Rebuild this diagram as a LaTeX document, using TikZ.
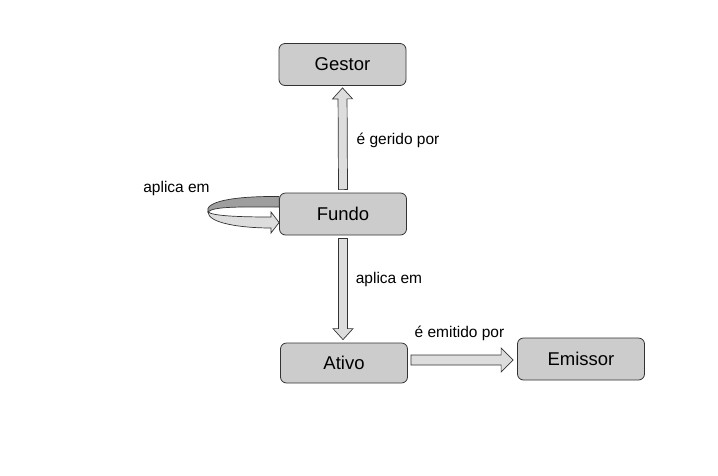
\documentclass[tikz,border=0pt]{standalone}
\usepackage{fontspec}
\setmainfont{Liberation Sans}
\usetikzlibrary{calc,positioning}

\definecolor{boxgray}{RGB}{204,204,204}
\definecolor{arrowgray}{RGB}{221,221,221}
\definecolor{bandgray}{RGB}{158,158,158}

\tikzset{
  box/.style={draw=black!80, line width=0.8pt, rounded corners=6pt, fill=boxgray,
    minimum width=127pt, minimum height=42pt, inner sep=0pt,
    font=\fontsize{18.5}{22}\selectfont},
  lbl/.style={font=\fontsize{15.5}{18}\selectfont, inner sep=0pt},
  fatarrow/.style={draw=black!80, line width=0.7pt, fill=arrowgray, line join=miter}
}

% block arrow from #1 to #2 (shaft half width #3, head half width #4, head length #5)
\newcommand{\fatarrow}[5]{%
  \path let \p1=($(#2)-(#1)$) in
    \pgfextra{\pgfmathsetmacro{\faang}{atan2(\y1,\x1)}\pgfmathsetmacro{\falen}{veclen(\x1,\y1)}%
      \xdef\faang{\faang}\xdef\falen{\falen}};
  \draw[fatarrow, shift={(#1)}, rotate=\faang]
    (0,-#3) -- (\falen-#5,-#3) -- (\falen-#5,-#4) -- (\falen,0)
    -- (\falen-#5,#4) -- (\falen-#5,#3) -- (0,#3) -- cycle;
}

\begin{document}
\begin{tikzpicture}[x=1pt,y=-1pt]
  \useasboundingbox (0,0) rectangle (718,475);

  \node[box] (gestor)  at (342.5,64.5) {Gestor};
  \node[box] (fundo)   at (343,214)    {Fundo};
  \node[box, minimum height=40pt] (ativo) at (344,363) {Ativo};
  \node[box] (emissor) at (581,359)    {Emissor};

  % connectors
  \coordinate (fg-s) at ([yshift=3pt]fundo.north);
  \coordinate (fg-e) at ([yshift=-2pt]gestor.south);
  \fatarrow{fg-s}{fg-e}{4.5}{10}{11}

  \coordinate (fa-s) at ([yshift=-3pt]fundo.south);
  \coordinate (fa-e) at ([yshift=3pt]fa-s |- ativo.north);
  \fatarrow{fa-s}{fa-e}{4.5}{10}{11}

  \coordinate (ae-s) at ([xshift=3pt,yshift=3pt]ativo.east);
  \coordinate (ae-e) at ([xshift=-4pt]ae-s -| emissor.west);
  \fatarrow{ae-s}{ae-e}{5}{12}{12}

  % self loop on fundo
  \draw[fatarrow, fill=bandgray] (fundo.west |- 0,196.5)
    .. controls (232,196) and (204,202) .. (208,212)
    .. controls (213,206) and (245,207) .. (fundo.west |- 0,207) -- cycle;
  \draw[fatarrow] (208,212)
    .. controls (208,223) and (240,228) .. (271,228) -- (271,233)
    -- (fundo.west |- 0,222.5) -- (271,212) -- (271,217)
    .. controls (240,217) and (213,216) .. (208,212) -- cycle;

  % labels
  \node[lbl] (l-gerido)  at (398,140) {é gerido por};
  \node[lbl] (l-loop)    at (176.5,188) {aplica em};
  \node[lbl] (l-aplica)  at (389,279) {aplica em};
  \node[lbl] (l-emitido) at (459.5,333) {é emitido por};
\end{tikzpicture}
\end{document}
